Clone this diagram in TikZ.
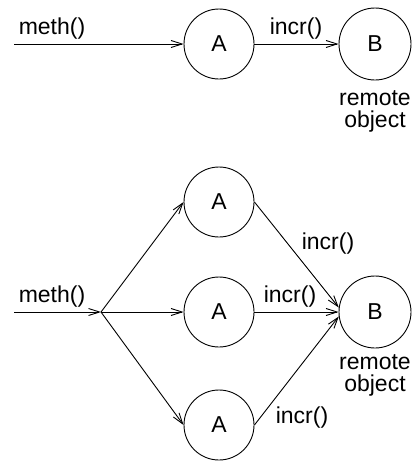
\documentclass[tikz,border=0pt]{standalone}
\usepackage{fontspec}
\setmainfont{Liberation Sans}
\usetikzlibrary{arrows.meta}
\begin{document}
\begin{tikzpicture}[x=1pt,y=-1pt,
  obj/.style={draw,circle,minimum size=70pt,inner sep=0pt,line width=0.9pt},
  lbl/.style={inner sep=0pt},
  captxt/.style={inner sep=0pt,anchor=base},
  conn/.style={line width=0.9pt,-{Straight Barb[length=11pt,width=7pt,line width=0.9pt]}},
  every node/.style={font=\fontsize{23}{26}\selectfont}]
\useasboundingbox (0,0) rectangle (418,461);
% top
\coordinate (s1) at (14,44);
\node[obj] (a1) at (219,44) {A};
\node[obj,minimum size=72pt] (b1) at (375,44) {B};
\draw[conn] (s1) -- (a1.west);
\draw[conn] (a1.east) -- (b1.west);
\node[lbl] (m1) at (52,29) {meth()};
\node[lbl] (i1) at (296,29) {incr()};
\node[captxt] (r1) at (375,105) {remote};
\node[captxt] (o1) at (375,127) {object};
% bottom
\coordinate (s2) at (14,312);
\coordinate (br) at (101,312);
\node[obj] (a2) at (219,202) {A};
\node[obj] (a3) at (219,312) {A};
\node[obj] (a4) at (219,425) {A};
\node[obj,minimum size=72pt] (b2) at (375,312) {B};
\draw[conn] (s2) -- (br);
\draw[conn] (br) -- (a2.west);
\draw[conn] (br) -- (a3.west);
\draw[conn] (br) -- (a4.west);
\draw[conn] (a2.east) -- (b2.173);
\draw[conn] (a3.east) -- (b2.west);
\draw[conn] (a4.east) -- (b2.187);
\node[lbl] (m2) at (52,297) {meth()};
\node[lbl] (i2) at (328,244) {incr()};
\node[lbl] (i3) at (290,297) {incr()};
\node[lbl] (i4) at (302,418) {incr()};
\node[captxt] (r2) at (375,369) {remote};
\node[captxt] (o2) at (375,391) {object};
\end{tikzpicture}
\end{document}
